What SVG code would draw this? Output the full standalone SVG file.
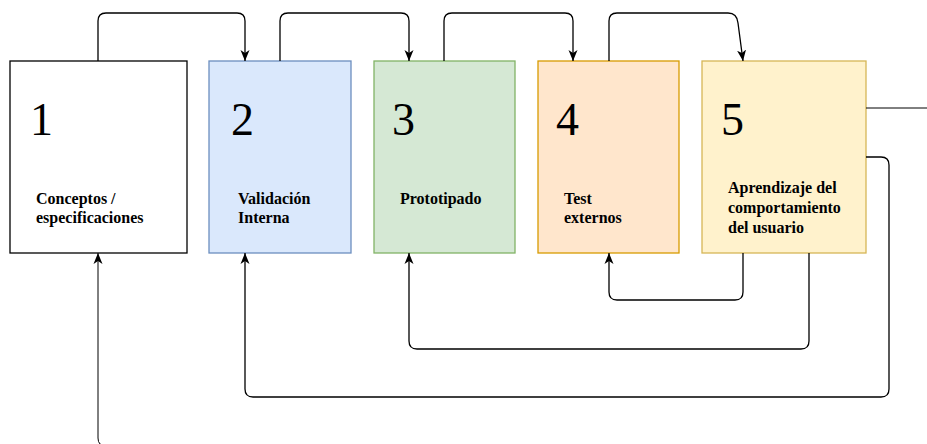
<svg xmlns="http://www.w3.org/2000/svg" width="927" height="444" viewBox="0 0 927 444">
<style>
.box{stroke-width:1.3}
.num{font-family:"Liberation Serif",serif;font-size:46px;fill:#000}
.lbl{font-family:"Liberation Serif",serif;font-size:16px;font-weight:bold;fill:#000}
.c{fill:none;stroke:#000;stroke-width:1.3}
</style>
<defs>
<marker id="ah" markerUnits="userSpaceOnUse" markerWidth="12" markerHeight="12" viewBox="0 0 12 12" refX="11" refY="6" orient="auto">
<path d="M0,1.5 L11,6 L0,10.5 L3,6 z" fill="#000"/>
</marker>
</defs>
<g id="node1">
<rect class="box" x="10" y="61" width="177" height="192" fill="#fff" stroke="#000"/>
<text class="num" x="30" y="135">1</text>
<text class="lbl" x="36" y="204">Conceptos /</text>
<text class="lbl" x="36" y="223">especificaciones</text>
</g>
<g id="node2">
<rect class="box" x="209" y="61" width="142" height="192" fill="#dae8fc" stroke="#6c8ebf"/>
<text class="num" x="231" y="135">2</text>
<text class="lbl" x="238" y="204">Validación</text>
<text class="lbl" x="238" y="223">Interna</text>
</g>
<g id="node3">
<rect class="box" x="374" y="61" width="141" height="192" fill="#d5e8d4" stroke="#82b366"/>
<text class="num" x="392" y="135">3</text>
<text class="lbl" x="400" y="204">Prototipado</text>
</g>
<g id="node4">
<rect class="box" x="538" y="61" width="141" height="192" fill="#ffe6cc" stroke="#d79b00"/>
<text class="num" x="556" y="135">4</text>
<text class="lbl" x="564" y="204">Test</text>
<text class="lbl" x="564" y="223">externos</text>
</g>
<g id="node5">
<rect class="box" x="702" y="61" width="164" height="192" fill="#fff2cc" stroke="#d6b656"/>
<text class="num" x="721" y="135">5</text>
<text class="lbl" x="728" y="193">Aprendizaje del</text>
<text class="lbl" x="728" y="213">comportamiento</text>
<text class="lbl" x="728" y="233">del usuario</text>
</g>
<g id="connectors">
<path class="c" d="M98,61 V21 Q98,13 106,13 H237 Q245,13 245,21 V61" marker-end="url(#ah)"/>
<path class="c" d="M280,61 V21 Q280,13 288,13 H401 Q409,13 409,21 V61" marker-end="url(#ah)"/>
<path class="c" d="M444,61 V21 Q444,13 452,13 H565 Q573,13 573,21 V61" marker-end="url(#ah)"/>
<path class="c" d="M609,61 V21 Q609,13 617,13 H728 Q737,13 738,23 L743,61" marker-end="url(#ah)"/>
<path class="c" d="M866,157 H881 Q889,157 889,165 V389 Q889,397 881,397 H253 Q245,397 245,389 V253" marker-end="url(#ah)"/>
<path class="c" d="M743,253 V292 Q743,300 735,300 H617 Q609,300 609,292 V253" marker-end="url(#ah)"/>
<path class="c" d="M809,253 V341 Q809,349 801,349 H417 Q409,349 409,341 V253" marker-end="url(#ah)"/>
<path class="c" d="M866,108 H935 V446 H106 Q98,446 98,438 V253" marker-end="url(#ah)" style="stroke-width:1"/>
</g>
</svg>
